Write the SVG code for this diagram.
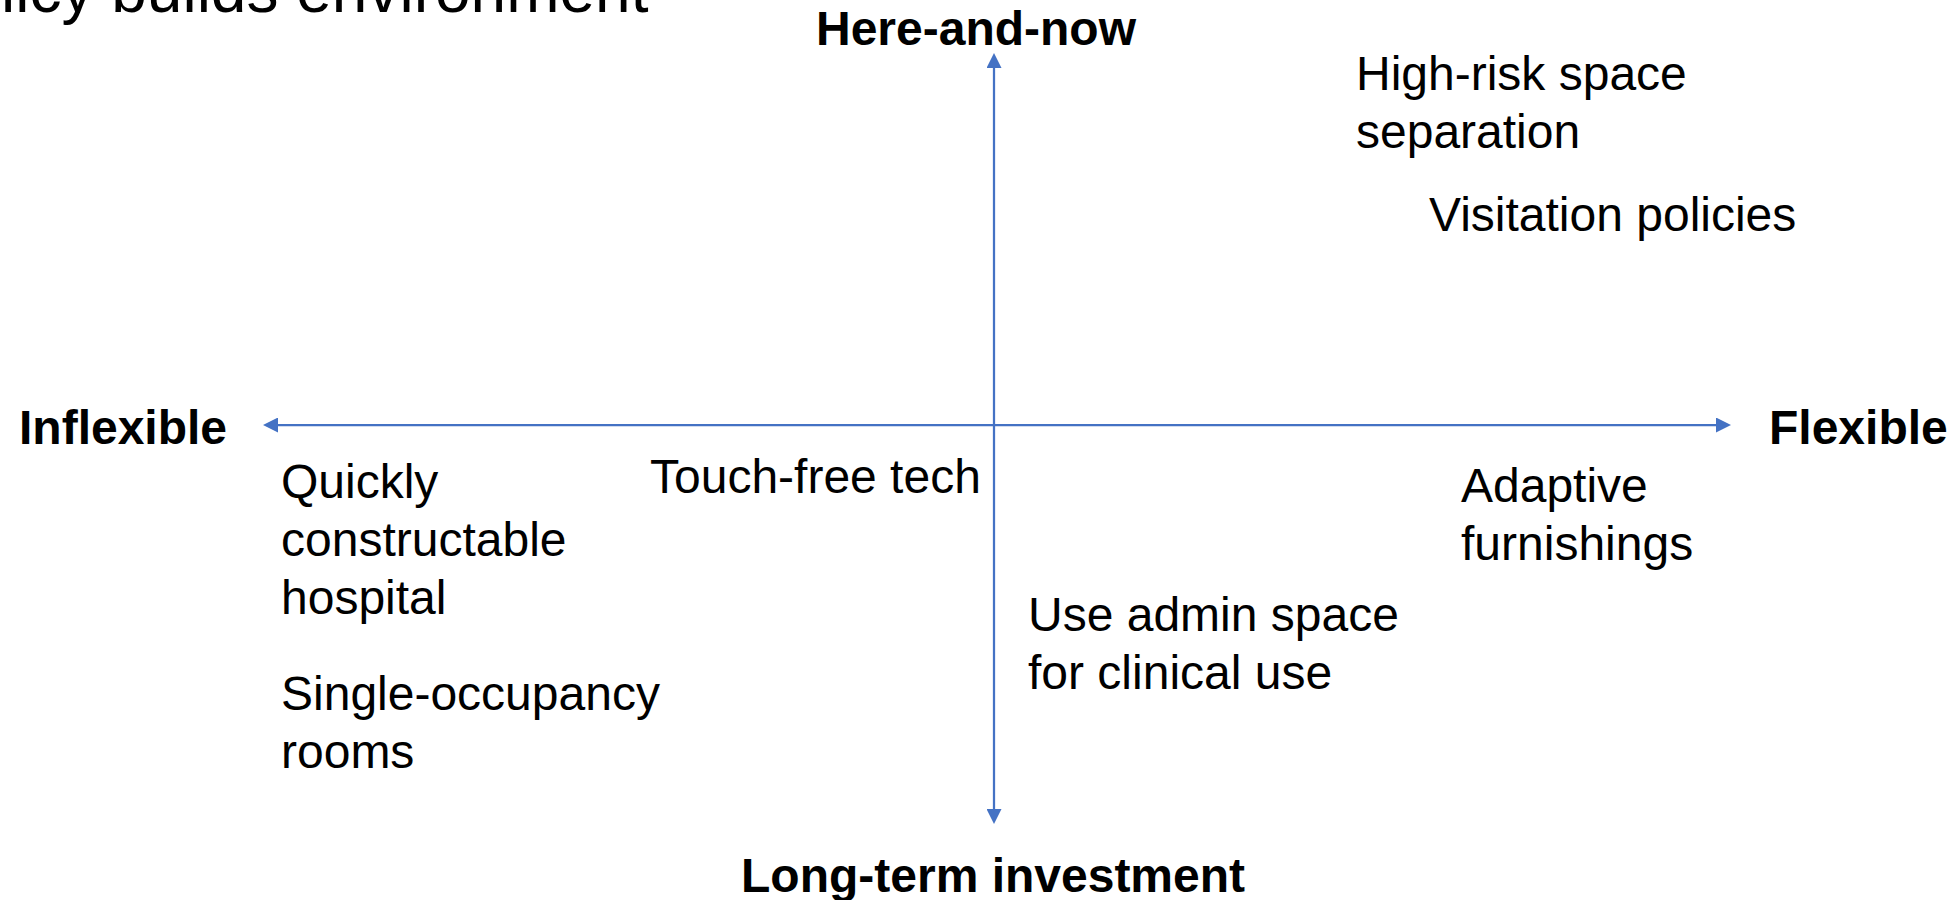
<svg xmlns="http://www.w3.org/2000/svg" width="1959" height="900" viewBox="0 0 1959 900">
  <style>
    text { font-family: "Liberation Sans", Arial, sans-serif; fill: #000; }
    .item { font-size: 48px; }
    .axis-label { font-size: 48px; font-weight: bold; }
    .title { font-size: 64px; }
    .axis { stroke: #4472C4; stroke-width: 2.25; fill: none; }
  </style>
  <defs>
    <marker id="arrow" markerUnits="userSpaceOnUse" markerWidth="15" markerHeight="15" refX="0" refY="7.5" orient="auto-start-reverse" viewBox="0 0 15 15">
      <path d="M0,0 L15,7.5 L0,15 Z" fill="#4472C4"/>
    </marker>
  </defs>

  <rect width="1959" height="900" fill="#fff"/>

  <!-- heading, partly off the top-left edge -->
  <text class="title" x="1" y="12">licy builds environment</text>

  <!-- axes -->
  <g id="connectors">
    <line class="axis" x1="994" y1="68" x2="994" y2="809" marker-start="url(#arrow)" marker-end="url(#arrow)"/>
    <line class="axis" x1="278" y1="425" x2="1716" y2="425" marker-start="url(#arrow)" marker-end="url(#arrow)"/>
  </g>

  <!-- axis ends -->
  <g id="label-here-and-now"><text class="axis-label" x="816" y="45">Here-and-now</text></g>
  <g id="label-long-term"><text class="axis-label" x="741" y="892">Long-term investment</text></g>
  <g id="label-inflexible"><text class="axis-label" x="19" y="444">Inflexible</text></g>
  <g id="label-flexible"><text class="axis-label" x="1769" y="444">Flexible</text></g>

  <!-- plotted items -->
  <g id="item-high-risk">
    <text class="item" x="1356" y="90">High-risk space</text>
    <text class="item" x="1356" y="148">separation</text>
  </g>
  <g id="item-visitation">
    <text class="item" x="1429" y="231">Visitation policies</text>
  </g>
  <g id="item-quickly">
    <text class="item" x="281" y="498">Quickly</text>
    <text class="item" x="281" y="556">constructable</text>
    <text class="item" x="281" y="614">hospital</text>
  </g>
  <g id="item-single">
    <text class="item" x="281" y="710">Single-occupancy</text>
    <text class="item" x="281" y="768">rooms</text>
  </g>
  <g id="item-touch-free">
    <text class="item" x="650" y="493">Touch-free tech</text>
  </g>
  <g id="item-admin">
    <text class="item" x="1028" y="631">Use admin space</text>
    <text class="item" x="1028" y="689">for clinical use</text>
  </g>
  <g id="item-adaptive">
    <text class="item" x="1461" y="502">Adaptive</text>
    <text class="item" x="1461" y="560">furnishings</text>
  </g>
</svg>
